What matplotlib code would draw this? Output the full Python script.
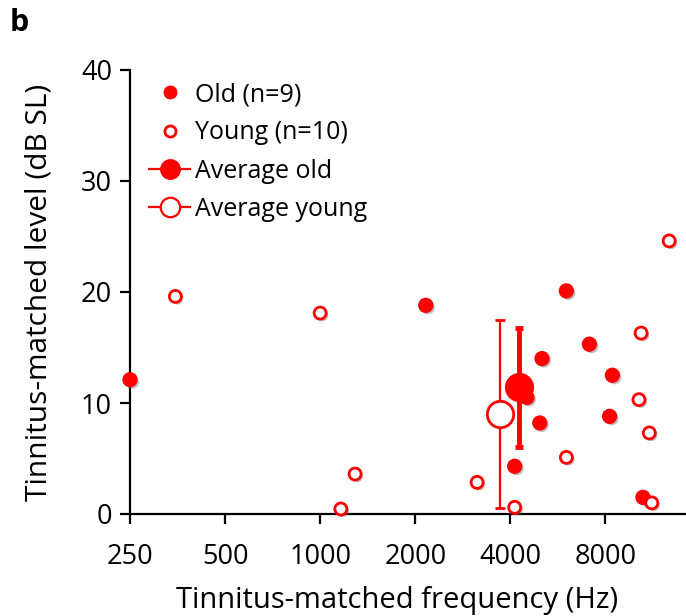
import matplotlib.pyplot as plt
import matplotlib.patheffects as pe
from matplotlib.lines import Line2D
from matplotlib.ticker import FixedLocator, NullLocator

plt.rcParams["font.family"] = ["Open Sans", "DejaVu Sans"]

RED = "#ff0000"

# individual subjects (frequency in Hz, level in dB SL)
old_freq = [250, 2160, 6020, 7120, 5040, 8420, 4515, 4960, 8250, 4130, 10520]
old_level = [12.1, 18.8, 20.1, 15.3, 14.0, 12.5, 10.5, 8.2, 8.8, 4.3, 1.5]
young_freq = [348, 1000, 1290, 1163, 10380, 10220, 11020, 6020, 3140, 4130, 11220, 12740]
young_level = [19.6, 18.1, 3.6, 0.45, 16.3, 10.3, 7.3, 5.1, 2.85, 0.6, 1.0, 24.6]

# group averages with error bars
avg_old_freq, avg_old_level, avg_old_err = 4270, 11.4, 5.4
avg_young_freq, avg_young_level, avg_young_err = 3720, 9.0, 8.45

xticks = [250, 500, 1000, 2000, 4000, 8000]

shadow = [pe.SimplePatchShadow(offset=(1.5, -1.5), shadow_rgbFace="0.45", alpha=0.45), pe.Normal()]

fig = plt.figure(figsize=(6.86, 6.16), dpi=100)
ax = fig.add_axes([130 / 686, 1 - 514 / 616, 1 - 130 / 686, (514 - 70) / 616])

ax.scatter(old_freq, old_level, s=100, color=RED, edgecolors=RED, zorder=3,
           path_effects=shadow, clip_on=False)
ax.scatter(young_freq, young_level, s=75, facecolors="white", edgecolors=RED,
           linewidths=2, zorder=3, path_effects=shadow, clip_on=False)

ax.errorbar(avg_young_freq, avg_young_level, yerr=avg_young_err, fmt="o",
            ms=19, mfc="white", mec=RED, mew=2, ecolor=RED, elinewidth=1.6,
            capsize=3.5, capthick=1.6, zorder=4)
ax.errorbar(avg_old_freq, avg_old_level, yerr=avg_old_err, fmt="o",
            ms=20, mfc=RED, mec=RED, ecolor=RED, elinewidth=3.5,
            capsize=3, capthick=3.5, zorder=5)

ax.set_xscale("log", base=2)
ax.set_xlim(250, 14400)
ax.set_ylim(0, 40)
ax.xaxis.set_major_locator(FixedLocator(xticks))
ax.xaxis.set_minor_locator(NullLocator())
ax.set_xticklabels([str(v) for v in xticks])
ax.set_yticks([0, 10, 20, 30, 40])

for side in ["top", "right"]:
    ax.spines[side].set_visible(False)
for side in ["left", "bottom"]:
    ax.spines[side].set_linewidth(1.6)
ax.tick_params(direction="out", length=7, width=1.6, labelsize=19.5)
ax.tick_params(axis="x", pad=14)
ax.tick_params(axis="y", pad=6)

ax.set_xlabel("Tinnitus-matched frequency (Hz)", fontsize=21)
ax.xaxis.set_label_coords(0.48, -0.163)
ax.set_ylabel("Tinnitus-matched level (dB SL)", fontsize=21.5, labelpad=20)

handles = [
    Line2D([], [], ls="none", marker="o", ms=9, mfc=RED, mec=RED),
    Line2D([], [], ls="none", marker="o", ms=8, mfc="white", mec=RED, mew=2),
    Line2D([], [], color=RED, lw=1.6, marker="o", ms=14, mfc=RED, mec=RED),
    Line2D([], [], color=RED, lw=1.6, marker="o", ms=14, mfc="white", mec=RED, mew=1.6),
]
labels = ["Old (n=9)", "Young (n=10)", "Average old", "Average young"]
ax.legend(handles, labels, loc="upper left",
          bbox_to_anchor=(149 / 686, 1 - 82 / 616), bbox_transform=fig.transFigure,
          frameon=False, fontsize=18, handlelength=1.65, handletextpad=0.2,
          labelspacing=0.53, borderpad=0, borderaxespad=0)

fig.text(10 / 686, 1 - 8 / 616, "b", fontsize=22, fontweight="bold", va="top", ha="left")

fig.savefig("out.png", dpi=100)
